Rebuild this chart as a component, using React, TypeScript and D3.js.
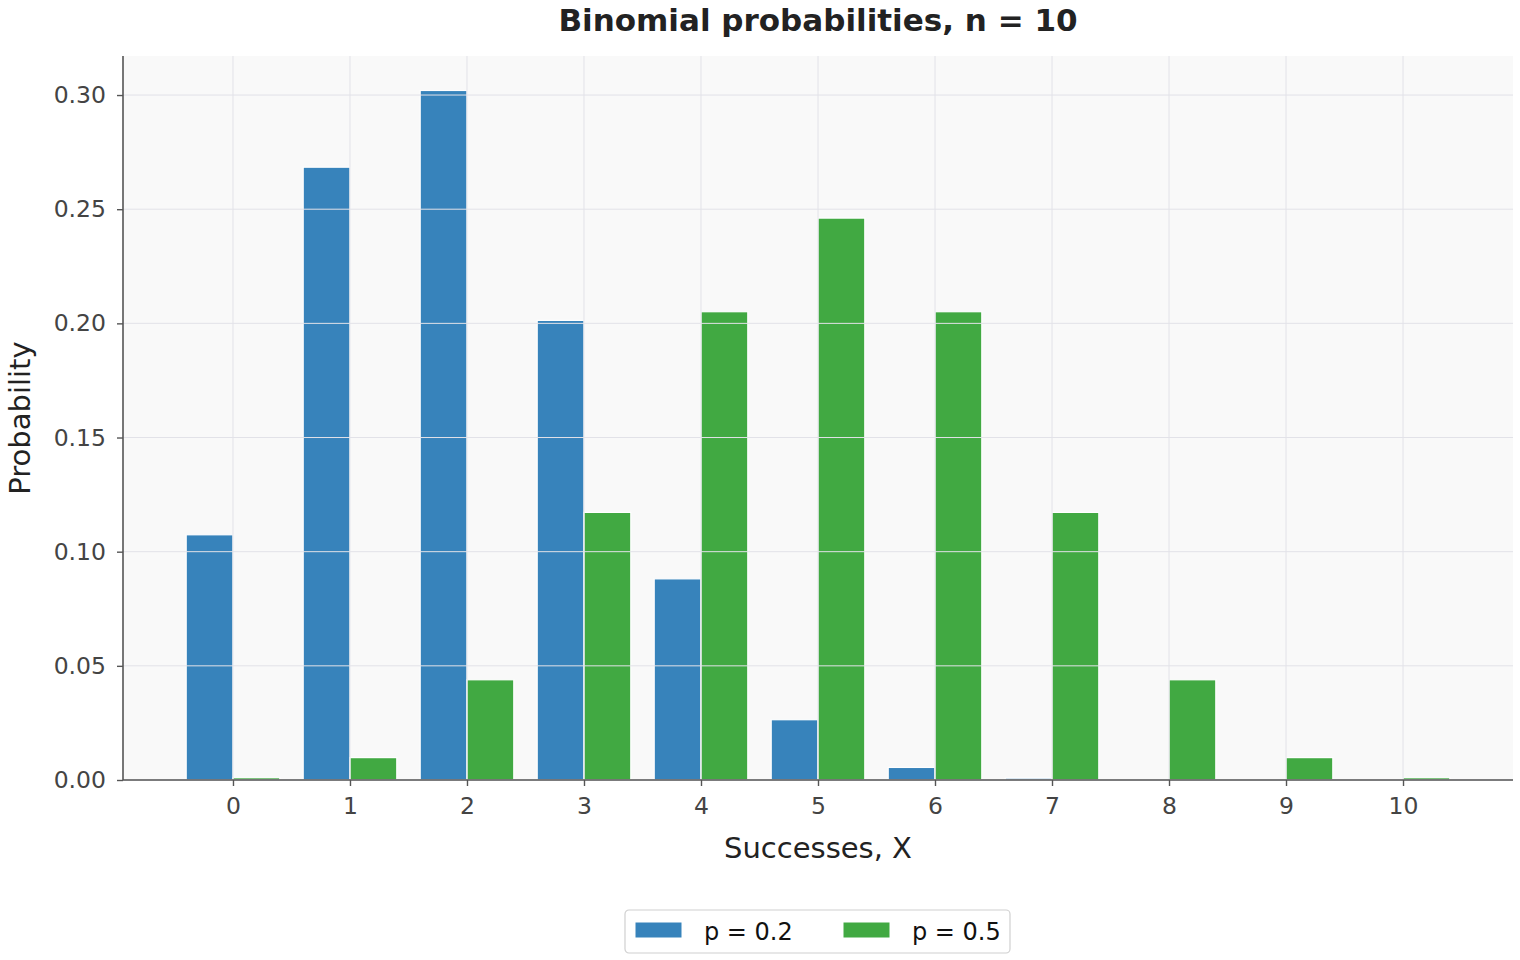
import React, { useEffect, useRef } from 'react';
import * as d3 from 'd3';

const successes = [0, 1, 2, 3, 4, 5, 6, 7, 8, 9, 10];
const probP02 = [0.1074, 0.2684, 0.302, 0.2013, 0.0881, 0.0264, 0.0055, 0.0008, 0.0001, 0.0, 0.0];
const probP05 = [0.001, 0.0098, 0.0439, 0.1172, 0.2051, 0.2461, 0.2051, 0.1172, 0.0439, 0.0098, 0.001];
const seriesNames = ['p = 0.2', 'p = 0.5'];
const seriesColors = ['#3783bb', '#41a942'];
const yTicks = [0, 0.05, 0.1, 0.15, 0.2, 0.25, 0.3];

const width = 1520;
const height = 960;

const App: React.FC = () => {
  const svgRef = useRef<SVGSVGElement>(null);

  useEffect(() => {
    if (!svgRef.current) return;
    const svg = d3.select(svgRef.current);
    svg.selectAll('*').remove();

    const margin = { top: 56, right: 7, bottom: 180, left: 123 };
    const x = d3.scaleLinear().domain([-0.94, 10.94]).range([margin.left, width - margin.right]);
    const yMax = d3.max(probP02.concat(probP05))! * 1.05;
    const y = d3.scaleLinear().domain([0, yMax]).range([height - margin.bottom, margin.top]);
    const font = 'DejaVu Sans, sans-serif';

    // plot background
    svg.append('rect')
      .attr('x', x.range()[0]).attr('y', margin.top)
      .attr('width', x.range()[1] - x.range()[0])
      .attr('height', y(0) - margin.top)
      .attr('fill', '#f9f9f9');

    // bars
    const series = [probP02, probP05];
    const bw = 0.4;
    series.forEach((vals, si) => {
      const off = si === 0 ? -bw : 0;
      svg.append('g').selectAll('rect')
        .data(vals)
        .enter().append('rect')
        .attr('x', (_d, i) => x(successes[i] + off))
        .attr('width', x(bw) - x(0))
        .attr('y', d => y(d))
        .attr('height', d => y(0) - y(d))
        .attr('fill', seriesColors[si])
        .attr('stroke', '#ffffff')
        .attr('stroke-width', 1.2);
    });

    // grid on top of bars
    const grid = svg.append('g').attr('stroke', '#e2e2e8').attr('stroke-width', 1);
    grid.selectAll('.gy').data(yTicks).enter().append('line')
      .attr('x1', x.range()[0]).attr('x2', x.range()[1])
      .attr('y1', d => y(d)).attr('y2', d => y(d));
    grid.selectAll('.gx').data(successes).enter().append('line')
      .attr('x1', d => x(d)).attr('x2', d => x(d))
      .attr('y1', margin.top).attr('y2', y(0));

    // axes (domain paths removed, spines drawn separately)
    const xAxis = svg.append('g')
      .attr('transform', `translate(0, ${y(0)})`)
      .call(d3.axisBottom(x).tickValues(successes).tickFormat(d3.format('d')).tickSizeOuter(0).tickSize(6).tickPadding(11));
    const yAxis = svg.append('g')
      .attr('transform', `translate(${margin.left}, 0)`)
      .call(d3.axisLeft(y).tickValues(yTicks).tickFormat(d3.format('.2f')).tickSizeOuter(0).tickSize(6).tickPadding(11));
    [xAxis, yAxis].forEach(a => {
      a.select('.domain').remove();
      a.selectAll('.tick line').attr('stroke', '#555').attr('stroke-width', 1.4);
      a.selectAll('.tick text').attr('fill', '#444').style('font-family', font).style('font-size', '23.5px');
    });
    svg.append('line')
      .attr('x1', margin.left).attr('x2', margin.left)
      .attr('y1', margin.top).attr('y2', y(0))
      .attr('stroke', '#555').attr('stroke-width', 1.6);
    svg.append('line')
      .attr('x1', margin.left).attr('x2', x.range()[1])
      .attr('y1', y(0)).attr('y2', y(0))
      .attr('stroke', '#555').attr('stroke-width', 1.6);

    // labels
    svg.append('text')
      .attr('x', (x.range()[0] + x.range()[1]) / 2).attr('y', 31)
      .attr('text-anchor', 'middle')
      .style('font-family', font).style('font-size', '31px').style('font-weight', 'bold')
      .attr('fill', '#222')
      .text('Binomial probabilities, n = 10');
    svg.append('text')
      .attr('x', (x.range()[0] + x.range()[1]) / 2).attr('y', 858)
      .attr('text-anchor', 'middle')
      .style('font-family', font).style('font-size', '29px')
      .attr('fill', '#222')
      .text('Successes, X');
    svg.append('text')
      .attr('transform', `translate(30, ${(margin.top + y(0)) / 2}) rotate(-90)`)
      .attr('text-anchor', 'middle')
      .style('font-family', font).style('font-size', '29px')
      .attr('fill', '#222')
      .text('Probability');

    // legend
    const lg = svg.append('g').attr('transform', 'translate(625, 910)');
    lg.append('rect')
      .attr('width', 385).attr('height', 43).attr('rx', 4)
      .attr('fill', '#fff').attr('stroke', '#d0d0d0').attr('stroke-width', 1.2);
    seriesNames.forEach((name, i) => {
      const gx = 10 + i * 208;
      lg.append('rect')
        .attr('x', gx).attr('y', 12).attr('width', 47).attr('height', 16)
        .attr('fill', seriesColors[i]).attr('stroke', '#fff').attr('stroke-width', 1);
      lg.append('text')
        .attr('x', gx + 69).attr('y', 30)
        .style('font-family', font).style('font-size', '24px')
        .attr('fill', '#111')
        .text(name);
    });
  }, []);

  return <svg ref={svgRef} width={width} height={height} style={{ display: 'block', position: 'absolute', left: 0, top: 0 }} />;
};

export default App;
